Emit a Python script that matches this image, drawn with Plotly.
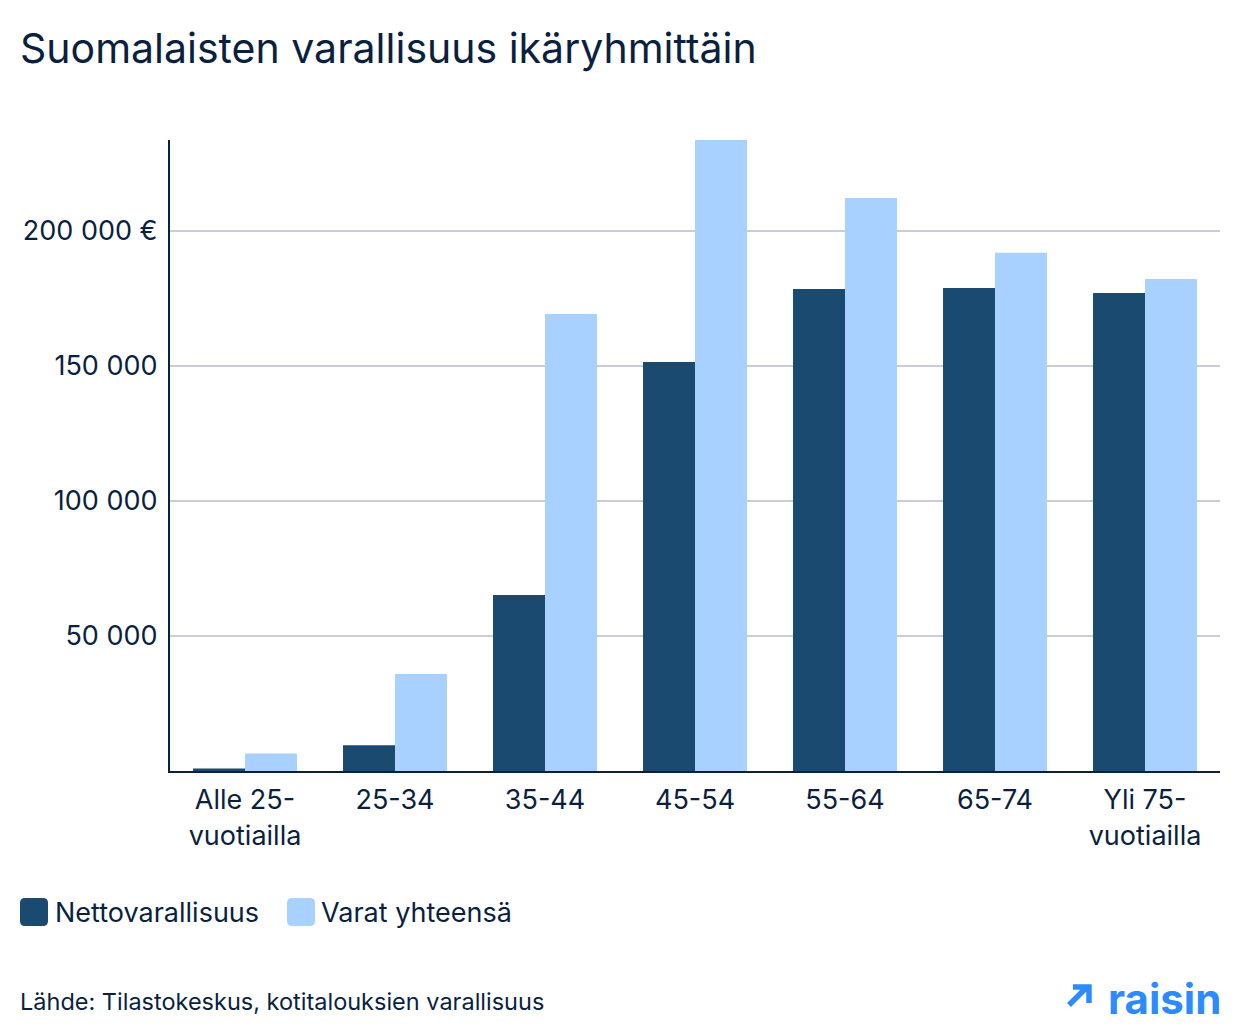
import plotly.graph_objects as go

categories = ["Alle 25-<br>vuotiailla", "25-34", "35-44", "45-54", "55-64", "65-74", "Yli 75-<br>vuotiailla"]
netto = [900, 9500, 65200, 151500, 178500, 178900, 177000]
varat = [6500, 35900, 169300, 233700, 212200, 191900, 182200]
tick_vals = [50000, 100000, 150000, 200000]
tick_text = ["50 000", "100 000", "150 000", "200 000 €"]
series_names = ["Nettovarallisuus", "Varat yhteensä"]

DARK = "#1a4a70"
LIGHT = "#a8d1ff"
NAVY = "#0b1f3f"
BLUE = "#2e8bff"
FONT = "Inter"

fig = go.Figure()
fig.add_trace(go.Bar(x=categories, y=netto, name=series_names[0], marker_color=DARK, marker_line_width=0, showlegend=False))
fig.add_trace(go.Bar(x=categories, y=varat, name=series_names[1], marker_color=LIGHT, marker_line_width=0, showlegend=False))

L, R, T, B = 170, 20, 140, 265
W, H = 1240, 1036
pw = W - L - R
ph = H - T - B

def px_x(p):
    return (p - L) / pw

def px_y(p):
    return (H - B - p) / ph

fig.update_layout(
    width=W, height=H,
    margin=dict(l=L, r=R, t=T, b=B),
    paper_bgcolor="white", plot_bgcolor="white",
    barmode="group", bargap=0.307, bargroupgap=0,
    font=dict(family=FONT, color=NAVY, size=27),
    xaxis=dict(showline=True, linecolor=NAVY, linewidth=2, ticks="", showgrid=False,
               ticklabelstandoff=4, tickfont=dict(size=27, color=NAVY)),
    yaxis=dict(range=[0, 233700], showline=True, linecolor=NAVY, linewidth=2,
               tickvals=tick_vals, ticktext=tick_text, showgrid=True, gridcolor="#c9cdd8", gridwidth=1.5,
               zeroline=False, ticks="", ticklabelstandoff=5, tickfont=dict(size=27, color=NAVY)),
)

annotations = []
shapes = []
annotations.append(dict(text="Suomalaisten varallisuus ikäryhmittäin", xref="paper", yref="paper",
                        x=px_x(18), y=px_y(48), xanchor="left", yanchor="middle", showarrow=False,
                        font=dict(size=41, color=NAVY, family=FONT)))

# legend
legend_items = [(20, 56, DARK, series_names[0]), (287, 322, LIGHT, series_names[1])]
for sx, tx, col, name in legend_items:
    r = 5
    w = 28
    path = (f"M {r},0 L {w-r},0 Q {w},0 {w},{r} L {w},{w-r} Q {w},{w} {w-r},{w} "
            f"L {r},{w} Q 0,{w} 0,{w-r} L 0,{r} Q 0,0 {r},0 Z")
    shapes.append(dict(type="path", xref="paper", yref="paper", xsizemode="pixel", ysizemode="pixel",
                       xanchor=px_x(sx), yanchor=px_y(926), path=path, fillcolor=col, line_width=0))
    annotations.append(dict(text=name, xref="paper", yref="paper", x=px_x(tx - 3), y=px_y(912),
                            xanchor="left", yanchor="middle", showarrow=False,
                            font=dict(size=27, color=NAVY, family=FONT)))

annotations.append(dict(text="Lähde: Tilastokeskus, kotitalouksien varallisuus", xref="paper", yref="paper",
                        x=px_x(18), y=px_y(1001), xanchor="left", yanchor="middle", showarrow=False,
                        font=dict(size=23.5, color=NAVY, family=FONT)))
annotations.append(dict(text="<b>raisin</b>", xref="paper", yref="paper",
                        x=px_x(1223), y=px_y(998), xanchor="right", yanchor="middle", showarrow=False,
                        font=dict(size=42, color=BLUE, family=FONT)))

# logo arrow
shapes.append(dict(type="path", xref="paper", yref="paper", xsizemode="pixel", ysizemode="pixel",
                   xanchor=px_x(1066), yanchor=px_y(1008),
                   path="M 3,3 L 22,22 M 7,21 L 23,21 L 23,5",
                   line=dict(color=BLUE, width=5.5), fillcolor="rgba(0,0,0,0)"))

fig.update_layout(annotations=annotations, shapes=shapes)
fig.write_html("out.html")
